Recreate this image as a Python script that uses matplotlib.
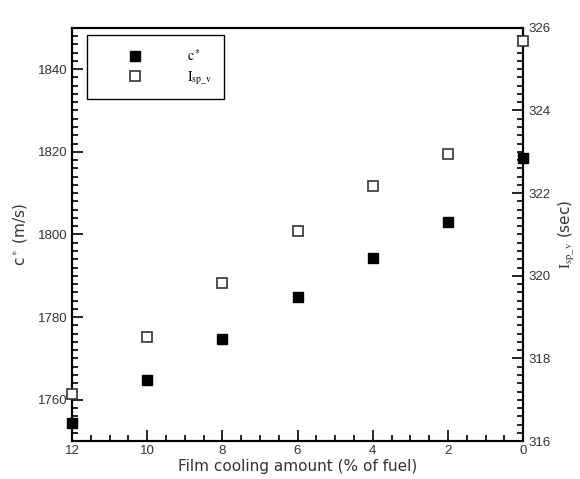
import matplotlib
matplotlib.use("Agg")
import matplotlib.pyplot as plt
from matplotlib.ticker import MultipleLocator
from matplotlib.lines import Line2D

plt.rcParams['mathtext.fontset'] = 'stix'

film_cooling = [12, 10, 8, 6, 4, 2, 0]
c_star = [1754.4, 1764.8, 1774.7, 1784.8, 1794.2, 1803.1, 1818.5]
isp_v = [317.15, 318.53, 319.82, 321.09, 322.17, 322.95, 325.69]

fig = plt.figure(figsize=(5.8, 4.79), dpi=100)
ax = fig.add_axes([0.124, 0.079, 0.778, 0.863])
ax2 = ax.twinx()

ax.plot(film_cooling, c_star, linestyle='none', marker='s', markersize=7.5,
        markerfacecolor='black', markeredgecolor='black', clip_on=False, zorder=5)
ax2.plot(film_cooling, isp_v, linestyle='none', marker='s', markersize=7.5,
         markerfacecolor='white', markeredgecolor='#333333', markeredgewidth=1.2,
         clip_on=False, zorder=5)

ax.set_xlim(12, 0)
ax.set_ylim(1750, 1850)
ax2.set_ylim(316, 326)

ax.xaxis.set_major_locator(MultipleLocator(2))
ax.xaxis.set_minor_locator(MultipleLocator(0.5))
ax.yaxis.set_major_locator(MultipleLocator(20))
ax.yaxis.set_minor_locator(MultipleLocator(2))
ax2.yaxis.set_major_locator(MultipleLocator(2))
ax2.yaxis.set_minor_locator(MultipleLocator(0.2))

for a in (ax, ax2):
    for s in a.spines.values():
        s.set_linewidth(1.5)

ax.tick_params(axis='both', which='both', direction='in', top=False, right=False, width=1.2)
ax.tick_params(which='major', length=8, pad=3)
ax.tick_params(which='minor', length=4)
ax2.tick_params(axis='y', which='both', direction='in', width=1.2)
ax2.tick_params(axis='y', which='major', length=8, pad=4)
ax2.tick_params(axis='y', which='minor', length=4)

for lab in ax.get_xticklabels() + ax.get_yticklabels() + ax2.get_yticklabels():
    lab.set_fontfamily('Liberation Sans')
    lab.set_fontsize(9.5)
    lab.set_color('#333333')

ax.set_xlabel('Film cooling amount (% of fuel)', fontsize=11, color='#333333', labelpad=1)
ax.set_ylabel('c$^*$ (m/s)', fontsize=11, color='#333333', labelpad=6)
ax2.set_ylabel(r'$\mathrm{I}_{\mathrm{sp\_v}}$ (sec)', fontsize=11, color='#333333', labelpad=4)

handles = [
    Line2D([], [], linestyle='none', marker='s', markersize=7.5,
           markerfacecolor='black', markeredgecolor='black'),
    Line2D([], [], linestyle='none', marker='s', markersize=7.5,
           markerfacecolor='white', markeredgecolor='#333333', markeredgewidth=1.2),
]
leg = ax.legend(handles, [r'$\mathrm{c}^*$', r'$\mathrm{I}_{\mathrm{sp\_v}}$'],
                loc='upper left', bbox_to_anchor=(0.033, 0.982), fancybox=False,
                framealpha=1, edgecolor='black', fontsize=10, handletextpad=1.1,
                borderpad=0.9, labelspacing=0.4, handlelength=5.2, borderaxespad=0)
leg.get_frame().set_linewidth(1.0)
leg.set_zorder(10)

fig.savefig('out.png', dpi=100)
